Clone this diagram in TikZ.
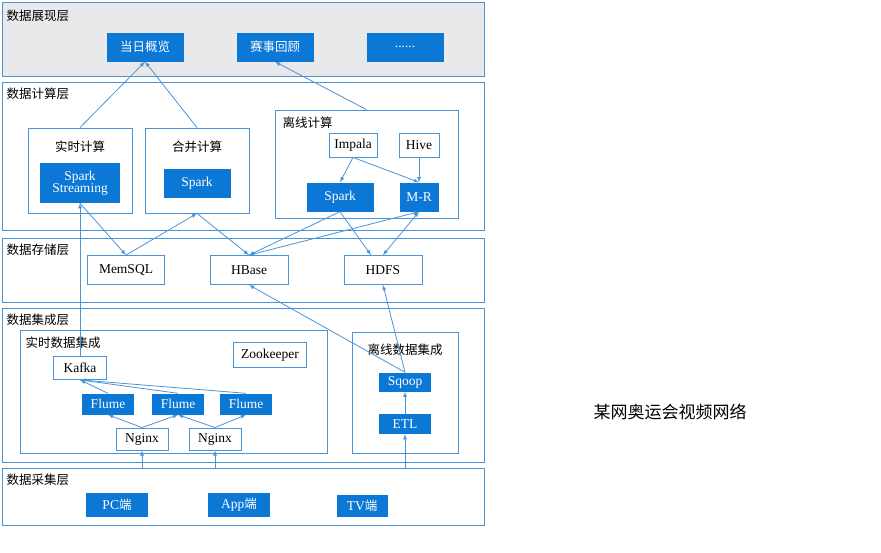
\documentclass[tikz,border=0pt]{standalone}
\usepackage{fontspec}
\setmainfont{Liberation Serif}
\newfontfamily\cjk{Noto Sans CJK SC}
\definecolor{bblue}{HTML}{0B78D6}
\definecolor{lblue}{HTML}{4A94D8}
\definecolor{panel}{HTML}{E9E9EC}
\newcommand\nodefont{\fontsize{13.5}{14}\selectfont}
\newcommand\cjkfont{\cjk\fontsize{12.5}{13}\selectfont}
\begin{document}
\begin{tikzpicture}[x=1pt,y=-1pt,
        layer/.style={draw=lblue, thick},
        group/.style={draw=lblue, fill=white, thick},
        bluenode/.style={fill=bblue, text=white, inner sep=0pt, font=\nodefont},
        whitenode/.style={draw=lblue, fill=white, thick, inner sep=0pt, font=\nodefont},
        conn/.style={draw=lblue, thick, -latex},
        ]
        \useasboundingbox (0,0) rectangle (881,552);
        \fill[white] (0,0) rectangle (881,552);
        \node[font=\cjk\fontsize{17}{18}\selectfont] (title) at (670,412) {某网奥运会视频网络};

        % Layers
        \draw[layer, fill=panel] (2,2) rectangle (484,76);
        \draw[layer] (2,82) rectangle (484,230);
        \draw[layer] (2,238) rectangle (484,302);
        \draw[layer] (2,308) rectangle (484,462);
        \draw[layer] (2,468) rectangle (484,525);
        \node[anchor=west, font=\cjkfont] (l1) at (3,16) {数据展现层};
        \node[anchor=west, font=\cjkfont] (l2) at (3,94) {数据计算层};
        \node[anchor=west, font=\cjkfont] (l3) at (3,250) {数据存储层};
        \node[anchor=west, font=\cjkfont] (l4) at (3,320) {数据集成层};
        \node[anchor=west, font=\cjkfont] (l5) at (3,480) {数据采集层};

        % Presentation
        \node[bluenode, minimum width=77pt, minimum height=29pt, font=\cjkfont] (today) at (145,47) {当日概览};
        \node[bluenode, minimum width=77pt, minimum height=29pt, font=\cjkfont] (review) at (275,47) {赛事回顾};
        \node[bluenode, minimum width=77pt, minimum height=29pt] (more) at (405,47) {......};

        % Computation
        \node[group, minimum width=104pt, minimum height=85pt] (rt) at (80,170.5) {};
        \node[font=\cjkfont] (rtl) at (80,147) {实时计算};
        \node[bluenode, minimum width=80pt, minimum height=40pt, align=center] (sst) at (80,183) {Spark\\[-2pt]Streaming};
        \node[group, minimum width=104pt, minimum height=85pt] (mg) at (197,170.5) {};
        \node[font=\cjkfont] (mgl) at (197,147) {合并计算};
        \node[bluenode, minimum width=67pt, minimum height=29pt] (spark1) at (197,183) {Spark};
        \node[group, minimum width=183pt, minimum height=108pt] (off) at (366.5,164) {};
        \node[anchor=west, font=\cjkfont] (offl) at (279,123) {离线计算};
        \node[whitenode, minimum width=48pt, minimum height=24pt] (impala) at (353,145) {Impala};
        \node[whitenode, minimum width=40pt, minimum height=24pt] (hive) at (419,145) {Hive};
        \node[bluenode, minimum width=67pt, minimum height=29pt] (spark2) at (340,197) {Spark};
        \node[bluenode, minimum width=39pt, minimum height=29pt] (mr) at (419,197) {M-R};

        % Storage
        \node[whitenode, minimum width=77pt, minimum height=29pt] (memsql) at (126,270) {MemSQL};
        \node[whitenode, minimum width=78pt, minimum height=29pt] (hbase) at (249,270) {HBase};
        \node[whitenode, minimum width=78pt, minimum height=29pt] (hdfs) at (383,270) {HDFS};

        % Integration
        \node[group, minimum width=307pt, minimum height=123pt] (rti) at (173.5,391.5) {};
        \node[anchor=west, font=\cjkfont] (rtil) at (22,343) {实时数据集成};
        \node[whitenode, minimum width=53pt, minimum height=23pt] (kafka) at (80,368) {Kafka};
        \node[whitenode, minimum width=73pt, minimum height=25pt] (zk) at (270,355) {Zookeeper};
        \node[bluenode, minimum width=52pt, minimum height=21pt] (flume1) at (108,404) {Flume};
        \node[bluenode, minimum width=52pt, minimum height=21pt] (flume2) at (178,404) {Flume};
        \node[bluenode, minimum width=52pt, minimum height=21pt] (flume3) at (246,404) {Flume};
        \node[whitenode, minimum width=52pt, minimum height=22pt] (nginx1) at (142,439) {Nginx};
        \node[whitenode, minimum width=52pt, minimum height=22pt] (nginx2) at (215,439) {Nginx};
        \node[group, minimum width=106pt, minimum height=121pt] (offi) at (405,392.5) {};
        \node[font=\cjkfont] (offil) at (405,350) {离线数据集成};
        \node[bluenode, minimum width=52pt, minimum height=19pt] (sqoop) at (405,382) {Sqoop};
        \node[bluenode, minimum width=52pt, minimum height=20pt] (etl) at (405,424) {ETL};

        % Collection
        \node[bluenode, minimum width=62pt, minimum height=24pt] (pc) at (117,505) {PC{\cjkfont 端}};
        \node[bluenode, minimum width=62pt, minimum height=24pt] (app) at (239,505) {App{\cjkfont 端}};
        \node[bluenode, minimum width=51pt, minimum height=22pt] (tv) at (362,506) {TV{\cjkfont 端}};
        \coordinate (c1) at (142,468);
        \coordinate (c2) at (215,468);
        \coordinate (c3) at (405,468);

        % Connectors
        \draw[conn] (rt.north) -- (today.south);
        \draw[conn] (mg.north) -- (today.south);
        \draw[conn] (off.north) -- (review.south);
        \draw[conn] (impala.south) -- (spark2.north);
        \draw[conn] (impala.south) -- (mr.north);
        \draw[conn] (hive.south) -- (mr.north);
        \draw[conn] (kafka.north) -- (sst.south);
        \draw[conn] (sst.south) -- (memsql.north);
        \draw[conn] (memsql.north) -- (mg.south);
        \draw[conn] (mg.south) -- (hbase.north);
        \draw[conn] (spark2.south) -- (hbase.north);
        \draw[conn, latex-latex] (hbase.north) -- (mr.south);
        \draw[conn] (spark2.south) -- ([xshift=-12pt]hdfs.north);
        \draw[conn, latex-latex] (hdfs.north) -- (mr.south);
        \draw[conn] (sqoop.north) -- (hdfs.south);
        \draw[conn] (sqoop.north) -- (hbase.south);
        \draw[conn] (etl) -- (sqoop);
        \foreach \f in {flume1,flume2,flume3}
            \draw[conn] (\f.north) -- (kafka.south);
        \draw[conn] (nginx1.north) -- (flume1.south);
        \draw[conn] (nginx1.north) -- (flume2.south);
        \draw[conn] (nginx2.north) -- (flume2.south);
        \draw[conn] (nginx2.north) -- (flume3.south);
        \draw[conn] (c1) -- (nginx1.south);
        \draw[conn] (c2) -- (nginx2.south);
        \draw[conn] (c3) -- (etl.south);
    \end{tikzpicture}
\end{document}
